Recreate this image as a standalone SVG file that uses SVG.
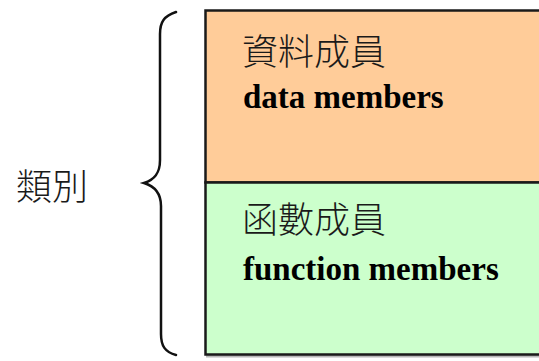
<svg xmlns="http://www.w3.org/2000/svg" width="539" height="361" viewBox="0 0 539 361">
<style>
.box{stroke:#1a1a1a;stroke-width:2.5}
.cjk{font-family:"Noto Sans CJK TC","Noto Sans CJK SC",sans-serif;font-size:36px;font-weight:300;fill:#1a1a1a}
.en{font-family:"Liberation Serif",serif;font-weight:bold;font-size:33px;fill:#000}
.brace{fill:none;stroke:#111;stroke-width:2.5;stroke-linecap:round}
</style>
<rect width="539" height="361" fill="#fff"/>
<g id="shadow"><rect x="206" y="12.5" width="340" height="345" fill="#b8b8b8"/></g>
<g id="data-members">
<rect class="box" x="205.5" y="10.5" width="340" height="172" fill="#FFCC99"/>
<text class="cjk" x="242" y="65">資料成員</text>
<text class="en" x="243" y="108">data members</text>
</g>
<g id="function-members">
<rect class="box" x="205.5" y="182.5" width="340" height="172" fill="#CCFFCC"/>
<text class="cjk" x="242" y="233">函數成員</text>
<text class="en" x="243" y="280">function members</text>
</g>
<g id="class-label">
<text class="cjk" x="16" y="200">類別</text>
</g>
<g id="connectors">
<path class="brace" d="M176,12 C164,16 160,22 160,34 L160,160 C160,174 154,180 144,183 C154,186 161,192 161,206 L161,334 C161,346 165,352 176,355"/>
</g>
</svg>
